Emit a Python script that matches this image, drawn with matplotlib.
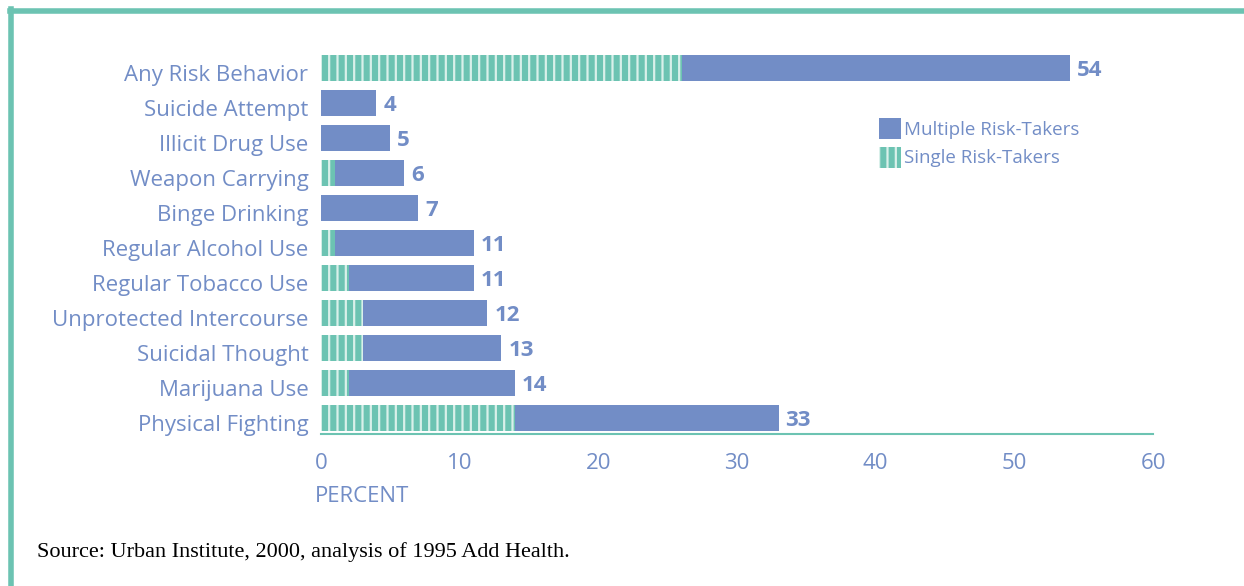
import matplotlib.pyplot as plt
import matplotlib.transforms as mtransforms
from matplotlib.patches import Patch
from matplotlib.lines import Line2D

categories = ['Any Risk Behavior', 'Suicide Attempt', 'Illicit Drug Use', 'Weapon Carrying',
              'Binge Drinking', 'Regular Alcohol Use', 'Regular Tobacco Use',
              'Unprotected Intercourse', 'Suicidal Thought', 'Marijuana Use', 'Physical Fighting']
totals = [54, 4, 5, 6, 7, 11, 11, 12, 13, 14, 33]
single = [26, 0, 0, 1, 0, 1, 2, 3, 3, 2, 14]
xticks = [0, 10, 20, 30, 40, 50, 60]

BLUE = '#728dc6'
TEAL = '#6cc3b2'
HATCH = '#d9f0ea'

plt.rcParams['font.family'] = ['Open Sans', 'DejaVu Sans']
plt.rcParams['hatch.linewidth'] = 1.6

fig = plt.figure(figsize=(12.44, 5.86), dpi=100)
ax = fig.add_axes([321/1244, 1 - 434/586, 832/1244, 384/586])

y = list(range(len(categories)))
ax.barh(y, totals, height=0.74, color=BLUE, linewidth=0)
ax.barh(y, single, height=0.74, color=TEAL, edgecolor=HATCH, hatch='||', linewidth=0)

down = mtransforms.ScaledTranslation(0, -3/100, fig.dpi_scale_trans)
for yi, v in zip(y, totals):
    ax.text(v + 0.5, yi, str(v), va='center', ha='left', color=BLUE,
            fontsize=16, fontweight='bold', transform=ax.transData + down)

ax.set_ylim(10.46, -0.51)
ax.set_xlim(0, 60)
ax.set_yticks(y)
ax.set_yticklabels(categories, fontsize=16, color=BLUE)
ax.set_xticks(xticks)
ax.set_xticklabels([str(t) for t in xticks], fontsize=16, color=BLUE)
ax.tick_params(length=0, axis='y', pad=9)
ax.tick_params(length=0, axis='x', pad=14)
shift = mtransforms.ScaledTranslation(0, -5/100, fig.dpi_scale_trans)
for lbl in ax.get_yticklabels():
    lbl.set_transform(lbl.get_transform() + shift)
for s in ['top', 'right', 'left']:
    ax.spines[s].set_visible(False)
ax.spines['bottom'].set_color(TEAL)
ax.spines['bottom'].set_linewidth(1.5)

fig.text(315/1244, 1 - 496/586, 'PERCENT', fontsize=16, color=BLUE, ha='left', va='center')

handles = [Patch(facecolor=BLUE, linewidth=0),
           Patch(facecolor=TEAL, edgecolor=HATCH, hatch='||', linewidth=0)]
leg = fig.legend(handles, ['Multiple Risk-Takers', 'Single Risk-Takers'],
                 loc='upper left', bbox_to_anchor=(879/1244, 1 - 118/586),
                 frameon=False, fontsize=13.5, handlelength=1.15, handleheight=1.35,
                 handletextpad=0.2, labelspacing=0.4, borderpad=0, borderaxespad=0)
for t in leg.get_texts():
    t.set_color(BLUE)

fig.text(37/1244, 1 - 552/586, 'Source: Urban Institute, 2000, analysis of 1995 Add Health.',
         fontsize=16, family='Liberation Serif', color='black', ha='left', va='center')

# teal frame along top and left edges
fig.add_artist(Line2D([10/1244, 1], [1 - 11/586, 1 - 11/586], transform=fig.transFigure,
                      color=TEAL, linewidth=4))
fig.add_artist(Line2D([11/1244, 11/1244], [0, 1 - 9/586], transform=fig.transFigure,
                      color=TEAL, linewidth=4))

fig.savefig('out.png', dpi=100)
